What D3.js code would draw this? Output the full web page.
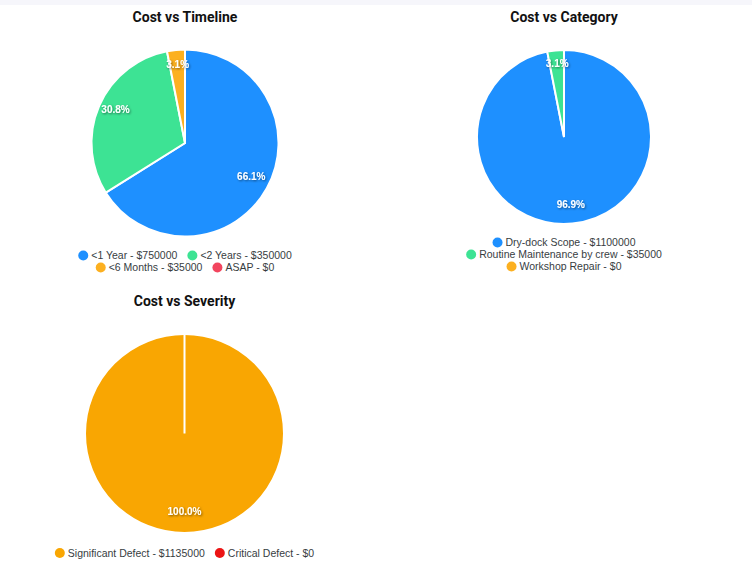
<!DOCTYPE html>
<html>
<head>
<meta charset="utf-8">
<script src="https://cdn.jsdelivr.net/npm/d3@7"></script>
<style>
  body { margin: 0; background: #fff; }
  svg { display: block; }
</style>
</head>
<body>
<svg id="chart-svg" width="752" height="569"></svg>
<script>
// data
const timelineLabels = ["<1 Year", "<2 Years", "<6 Months", "ASAP"];
const timelineValues = [750000, 350000, 35000, 0];
const timelineColors = ["#1e90ff", "#3de394", "#fcb020", "#f2455e"];

const categoryLabels = ["Dry-dock Scope", "Routine Maintenance by crew", "Workshop Repair"];
const categoryValues = [1100000, 35000, 0];
const categoryColors = ["#1e90ff", "#3de394", "#fcb020"];

const severityLabels = ["Significant Defect", "Critical Defect"];
const severityValues = [1135000, 0];
const severityColors = ["#f9a602", "#ec1414"];

const svg = d3.select("#chart-svg");

// faint band along the top
svg.append("rect")
    .attr("x", 0).attr("y", 0)
    .attr("width", 752).attr("height", 5)
    .attr("fill", "#f6f6fb");

// shadow for the percent labels
const defs = svg.append("defs");
const shadow = defs.append("filter")
    .attr("id", "label-shadow")
    .attr("x", "-20%").attr("y", "-40%")
    .attr("width", "140%").attr("height", "180%");
shadow.append("feDropShadow")
    .attr("dx", 1).attr("dy", 1)
    .attr("stdDeviation", 0.8)
    .attr("flood-color", "#000")
    .attr("flood-opacity", 0.5);

function drawPie(opts) {
    const g = svg.append("g").attr("class", "pie-chart");

    // title
    g.append("text")
        .attr("x", opts.cx)
        .attr("y", opts.titleY)
        .attr("text-anchor", "middle")
        .attr("font-family", "Roboto, sans-serif")
        .attr("font-weight", "bold")
        .attr("font-size", "14px")
        .attr("fill", "#111")
        .text(opts.title);

    const total = d3.sum(opts.values);
    const pie = d3.pie().sort(null).value(d => d.value);
    const arcs = pie(opts.labels.map((l, i) => ({ label: l, value: opts.values[i], color: opts.colors[i] })));

    const arc = d3.arc().innerRadius(0).outerRadius(opts.r);
    const labelArc = d3.arc().innerRadius(opts.r * 0.81).outerRadius(opts.r * 0.81);

    const pieG = g.append("g")
        .attr("transform", "translate(" + opts.cx + "," + opts.cy + ")");

    pieG.selectAll("path")
        .data(arcs)
        .join("path")
        .attr("d", arc)
        .attr("fill", d => d.data.color)
        .attr("stroke", "#fff")
        .attr("stroke-width", 2);

    // percent labels, zero slices get none
    pieG.selectAll("text")
        .data(arcs.filter(d => d.data.value > 0))
        .join("text")
        .attr("transform", d => "translate(" + labelArc.centroid(d) + ")")
        .attr("dy", "0.05em")
        .attr("text-anchor", "middle")
        .attr("font-family", "'Liberation Sans', Arial, sans-serif")
        .attr("font-weight", "bold")
        .attr("font-size", "10px")
        .attr("fill", "#fff")
        .attr("filter", "url(#label-shadow)")
        .text(d => (d.data.value / total * 100).toFixed(1) + "%");

    // legend, wrapped in centred rows
    const legendG = g.append("g");
    const items = arcs.map(d => {
        const item = legendG.append("g");
        item.append("circle")
            .attr("r", 5)
            .attr("cx", 5)
            .attr("cy", 0)
            .attr("fill", d.data.color);
        const t = item.append("text")
            .attr("x", 13)
            .attr("dy", "0.35em")
            .attr("font-family", "'Liberation Sans', Arial, sans-serif")
            .attr("font-size", "10.5px")
            .attr("fill", "#373d3f")
            .text(d.data.label + " - $" + d.data.value);
        return { node: item, width: 13 + t.node().getComputedTextLength() };
    });

    const gap = 10;
    const rows = [];
    let row = [];
    let rowW = 0;
    items.forEach(it => {
        const w = row.length ? rowW + gap + it.width : it.width;
        if (row.length && w > opts.legendWidth) {
            rows.push({ items: row, width: rowW });
            row = [it];
            rowW = it.width;
        } else {
            row.push(it);
            rowW = w;
        }
    });
    if (row.length) rows.push({ items: row, width: rowW });

    rows.forEach((r, ri) => {
        let x = opts.cx - r.width / 2;
        const y = opts.legendY + ri * 12;
        r.items.forEach(it => {
            it.node.attr("transform", "translate(" + x + "," + y + ")");
            x += it.width + gap;
        });
    });
}

drawPie({
    title: "Cost vs Timeline",
    labels: timelineLabels, values: timelineValues, colors: timelineColors,
    cx: 185, cy: 143, r: 93.5, titleY: 22, legendY: 255.5, legendWidth: 240
});

drawPie({
    title: "Cost vs Category",
    labels: categoryLabels, values: categoryValues, colors: categoryColors,
    cx: 564, cy: 137, r: 87, titleY: 22, legendY: 242.5, legendWidth: 240
});

drawPie({
    title: "Cost vs Severity",
    labels: severityLabels, values: severityValues, colors: severityColors,
    cx: 184.5, cy: 433.5, r: 99.5, titleY: 306, legendY: 553, legendWidth: 300
});
</script>
</body>
</html>
